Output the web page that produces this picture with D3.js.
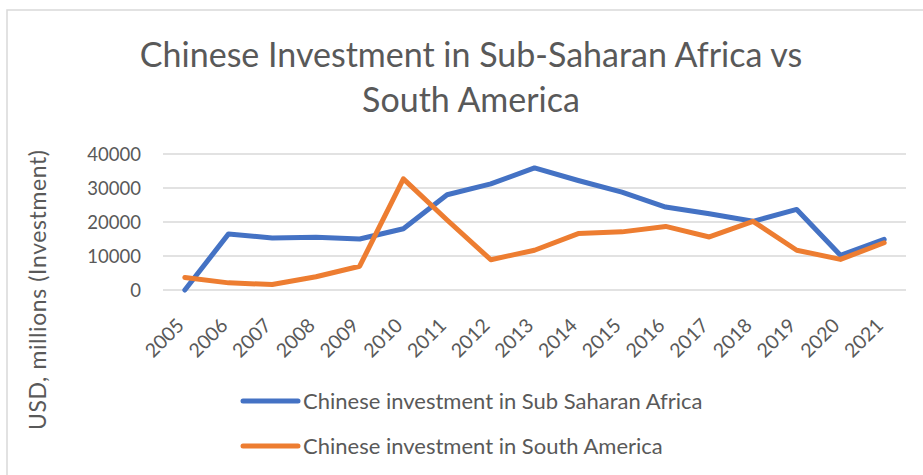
<!DOCTYPE html>
<html>
<head>
<meta charset="utf-8">
<script src="https://cdn.jsdelivr.net/npm/d3@7"></script>
<style>
  html, body { margin: 0; padding: 0; background: #fff; }
  svg { display: block; }
  text { font-family: Lato, "Open Sans", sans-serif; fill: #595959; }
</style>
</head>
<body>
<svg id="chart" width="923" height="475"></svg>
<script>
const years = ["2005","2006","2007","2008","2009","2010","2011","2012","2013","2014","2015","2016","2017","2018","2019","2020","2021"];
const africa = [0, 16500, 15300, 15500, 15000, 18000, 28000, 31200, 35900, 32200, 28800, 24400, 22400, 20200, 23700, 10200, 14900];
const southAmerica = [3700, 2100, 1600, 3900, 7000, 32700, 20600, 8900, 11700, 16600, 17100, 18700, 15600, 20200, 11700, 9000, 13900];
const yTicks = [0, 10000, 20000, 30000, 40000];
const seriesNames = ["Chinese investment in Sub Saharan Africa", "Chinese investment in South America"];
const seriesColors = ["#4472c4", "#ed7d31"];
const titleLines = ["Chinese Investment in Sub-Saharan Africa vs", "South America"];
const yTitle = "USD, millions (Investment)";

const svg = d3.select("#chart");
const W = 923, H = 475;

// border
svg.append("rect").attr("x", 7).attr("y", 10).attr("width", W).attr("height", H)
  .attr("fill", "none").attr("stroke", "#d9d9d9").attr("stroke-width", 1.5);

const plot = {left: 163, right: 906, top: 154, bottom: 290};
const x = d3.scalePoint().domain(years).range([plot.left, plot.right]).padding(0.5);
const y = d3.scaleLinear().domain([0, 40000]).range([plot.bottom, plot.top]);

// title
svg.append("g").selectAll("text").data(titleLines).join("text")
  .attr("x", 471).attr("y", (d, i) => 67 + i * 45)
  .attr("text-anchor", "middle").style("font-size", "34px")
  .text(d => d);

// gridlines
svg.append("g").selectAll("line").data(yTicks).join("line")
  .attr("x1", plot.left).attr("x2", plot.right)
  .attr("y1", d => y(d)).attr("y2", d => y(d))
  .attr("stroke", "#d9d9d9").attr("stroke-width", 1.5);

// y axis labels
const yAxis = d3.axisLeft(y).tickValues(yTicks).tickSize(0).tickPadding(0).tickFormat(d3.format("d"));
const yg = svg.append("g").attr("transform", `translate(141,0)`).call(yAxis);
yg.select(".domain").remove();
yg.selectAll("text").style("font-size", "18.5px").style("font-family", "Lato, sans-serif").attr("fill", "#595959").attr("dy", "0.35em");

// x axis labels
const xAxis = d3.axisBottom(x).tickSize(0).tickPadding(0);
const xg = svg.append("g").attr("transform", `translate(0,${plot.bottom})`).call(xAxis);
xg.select(".domain").remove();
xg.selectAll("text").style("font-size", "19.5px").style("font-family", "Lato, sans-serif").attr("fill", "#595959")
  .attr("text-anchor", "end")
  .attr("transform", "translate(-5,32) rotate(-45)")
  .attr("dy", "0.35em").attr("y", 0).attr("x", 0);

// y title
svg.append("text")
  .attr("transform", "translate(46,290) rotate(-90)")
  .attr("text-anchor", "middle").style("font-size", "23px")
  .attr("textLength", 280).attr("lengthAdjust", "spacing")
  .text(yTitle);

// lines
const line = d3.line().x((d, i) => x(years[i])).y(d => y(d));
[africa, southAmerica].forEach((s, k) => {
  svg.append("path").datum(s).attr("d", line)
    .attr("fill", "none").attr("stroke", seriesColors[k]).attr("stroke-width", 5)
    .attr("stroke-linejoin", "round").attr("stroke-linecap", "round");
});

// legend
const lg = svg.append("g").selectAll("g").data(seriesNames).join("g")
  .attr("transform", (d, i) => `translate(243,${401 + i * 45})`);
lg.append("line").attr("x1", 0).attr("x2", 55).attr("y1", 0).attr("y2", 0)
  .attr("stroke", (d, i) => seriesColors[i]).attr("stroke-width", 5).attr("stroke-linecap", "round");
lg.append("text").attr("x", 60).attr("y", 0).attr("dy", "0.35em")
  .style("font-size", "22px").text(d => d);
</script>
</body>
</html>
